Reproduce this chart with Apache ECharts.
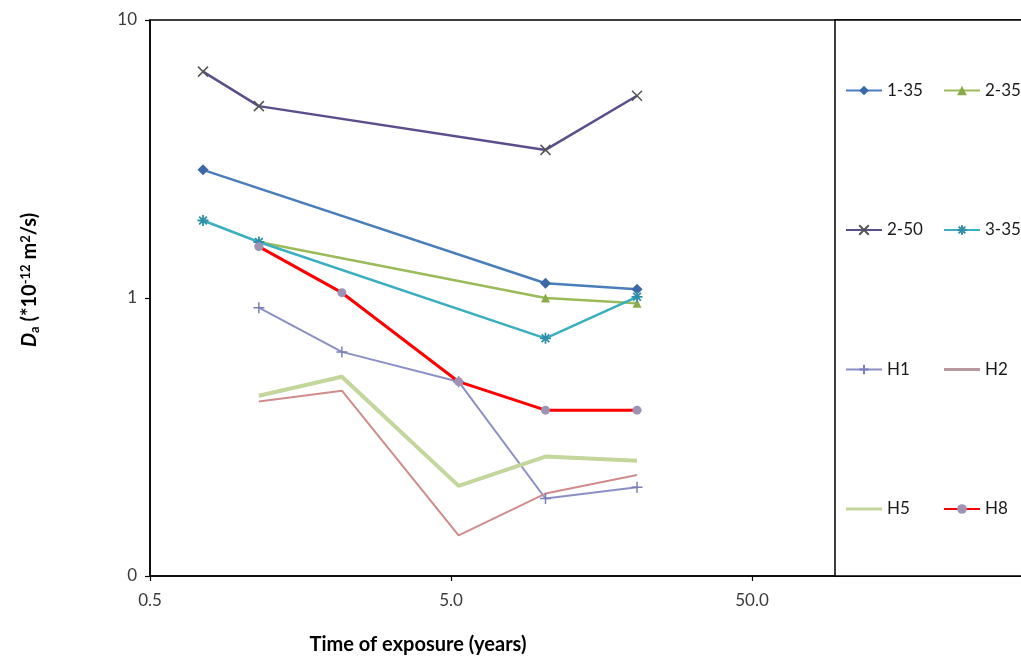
<!DOCTYPE html>
<html>
<head>
<meta charset="utf-8">
<script src="https://cdn.jsdelivr.net/npm/echarts@6/dist/echarts.min.js"></script>
<style>
html,body{margin:0;padding:0;background:#fff;}
#chart{width:1021px;height:659px;}
</style>
</head>
<body>
<div id="chart"></div>
<script>
// Time of exposure (years)
const years = [0.75, 1.15, 2.17, 5.3, 10.3, 20.75];
// Da values (*10^-12 m2/s), null = no measurement
const s_1_35 = [2.89, null, null, null, 1.13, 1.075];
const s_2_35 = [null, 1.59, null, null, 1.00, 0.957];
const s_2_50 = [6.52, 4.90, null, null, 3.41, 5.34];
const s_3_35 = [1.90, 1.59, null, null, 0.716, 1.01];
const s_H1 = [null, 0.923, 0.64, 0.50, 0.190, 0.2085];
const s_H2 = [null, 0.424, 0.464, 0.140, 0.198, 0.231];
const s_H5 = [null, 0.445, 0.521, 0.211, 0.269, 0.260];
const s_H8 = [null, 1.53, 1.045, 0.50, 0.395, 0.395];
const xTicks = [0.5, 5, 50];
const seriesNames = ['1-35', '2-35', '2-50', '3-35', 'H1', 'H2', 'H5', 'H8'];

function pairs(vals) {
  const out = [];
  vals.forEach((v, i) => { if (v !== null) out.push([years[i], v]); });
  return out;
}

const FONT = 'Lato, "Open Sans", sans-serif';
const X_PATH = 'path://M0,0L10,10M10,0L0,10';
const AST_PATH = 'path://M0,5L10,5M5,0L5,10M1.5,1.5L8.5,8.5M8.5,1.5L1.5,8.5';
const PLUS_PATH = 'path://M0,5L10,5M5,0L5,10';
const BAR_ICON = 'path://M0,0L36,0L36,3L0,3Z';

const styles = {
  '1-35': {data: s_1_35, line: '#4a7ebb', w: 2.5, symbol: 'diamond', size: 11, item: {color: '#3d68a8'}},
  '2-35': {data: s_2_35, line: '#9bbb59', w: 2.5, symbol: 'triangle', size: 9, item: {color: '#8aab48'}},
  '2-50': {data: s_2_50, line: '#5c4d8c', w: 2.5, symbol: X_PATH, size: 10, item: {color: 'none', borderColor: '#555', borderWidth: 1.5}},
  '3-35': {data: s_3_35, line: '#3aafc0', w: 2.5, symbol: AST_PATH, size: 11, item: {color: 'none', borderColor: '#2f8fa8', borderWidth: 1.8}},
  'H1': {data: s_H1, line: '#8b8fc6', w: 2, symbol: PLUS_PATH, size: 11, item: {color: 'none', borderColor: '#7a7fb8', borderWidth: 1.5}},
  'H2': {data: s_H2, line: '#d08c8c', w: 2, symbol: 'none', size: 0, item: {color: '#b89a9e'}},
  'H5': {data: s_H5, line: '#c3d69b', w: 4, symbol: 'none', size: 0, item: {color: '#c3d69b'}},
  'H8': {data: s_H8, line: '#ff0000', w: 3, symbol: 'circle', size: 9, item: {color: '#9e93b5'}}
};

const series = seriesNames.map(n => {
  const s = styles[n];
  return {
    name: n,
    type: 'line',
    data: pairs(s.data),
    symbol: s.symbol,
    symbolSize: s.size,
    showSymbol: s.symbol !== 'none',
    lineStyle: {color: s.line, width: s.w},
    itemStyle: s.item,
    emphasis: {disabled: true},
    animation: false,
    z: 3
  };
});

function legendItems(names) {
  return names.map(n => styles[n].symbol === 'none' ? {name: n, icon: BAR_ICON} : {name: n});
}

const chart = echarts.init(document.getElementById('chart'), null, {renderer: 'canvas'});
const legendBase = {
  orient: 'vertical',
  top: 82,
  padding: 0,
  itemGap: 122.5,
  itemWidth: 36,
  itemHeight: 12,
  textStyle: {fontFamily: FONT, fontSize: 17, color: '#1a1a1a'},
  selectedMode: false,
  z: 6
};
chart.setOption({
  animation: false,
  backgroundColor: '#fff',
  grid: {
    left: 150, top: 20, bottom: 83, width: 903,
    outerBoundsMode: 'none', containLabel: false,
    show: true, borderColor: '#000', borderWidth: 1.5, backgroundColor: 'transparent'
  },
  xAxis: {
    type: 'log', logBase: 10, min: 0.5, max: 500,
    axisLine: {show: true, lineStyle: {color: '#000', width: 1.5}},
    axisTick: {show: true, customValues: xTicks, length: 5, lineStyle: {color: '#000', width: 1.2}},
    axisLabel: {customValues: xTicks, formatter: v => Number(v).toFixed(1), fontFamily: FONT, fontSize: 17, color: '#3a3a3a', margin: 16},
    splitLine: {show: false},
    minorTick: {show: false}
  },
  yAxis: {
    type: 'log', logBase: 10, min: 0.1, max: 10,
    axisLine: {show: true, lineStyle: {color: '#000', width: 1.5}},
    axisTick: {show: true, length: 5, lineStyle: {color: '#000', width: 1.2}},
    axisLabel: {formatter: v => (v >= 1 ? String(Math.round(v)) : '0'), fontFamily: FONT, fontSize: 17, color: '#3a3a3a', margin: 13},
    splitLine: {show: false}
  },
  legend: [
    Object.assign({}, legendBase, {left: 845, data: legendItems(['1-35', '2-50', 'H1', 'H5'])}),
    Object.assign({}, legendBase, {left: 943, data: legendItems(['2-35', '3-35', 'H2', 'H8'])})
  ],
  graphic: [
    {type: 'rect', z: 5, shape: {x: 835, y: 20, width: 200, height: 556},
     style: {fill: '#fff', stroke: '#000', lineWidth: 1.5}},
    {type: 'text', z: 5, x: 418, y: 645,
     style: {text: 'Time of exposure (years)', font: 'bold 20px ' + FONT, fill: '#000', align: 'center', verticalAlign: 'middle'}},
    {type: 'text', z: 5, x: 30, y: 280, rotation: Math.PI / 2,
     style: {
       text: '{d|D}{sub|a}{n| (*10}{sup|-12}{n| m}{sup|2}{n|/s)}',
       align: 'center', verticalAlign: 'middle',
       rich: {
         d: {font: 'italic bold 20px ' + FONT, fill: '#000', lineHeight: 26},
         sub: {font: 'bold 13px ' + FONT, fill: '#000', lineHeight: 26, padding: [10, 0, 0, 0]},
         n: {font: 'bold 20px ' + FONT, fill: '#000', lineHeight: 26},
         sup: {font: 'bold 13px ' + FONT, fill: '#000', lineHeight: 26, padding: [0, 0, 9, 0]}
       }
     }}
  ],
  series: series
});
</script>
</body>
</html>
